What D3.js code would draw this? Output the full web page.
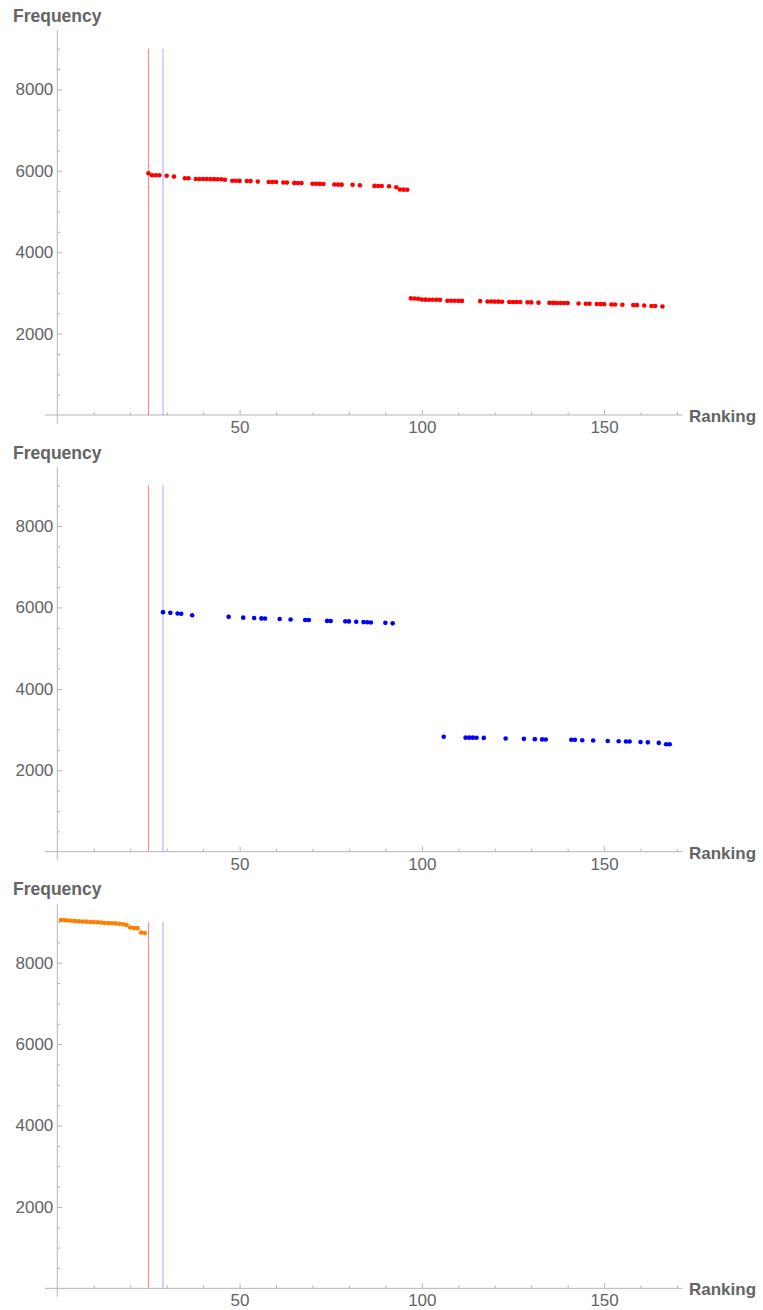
<!DOCTYPE html>
<html>
<head>
<meta charset="utf-8">
<script src="https://cdn.jsdelivr.net/npm/d3@7"></script>
<style>
  body { margin: 0; background: #fff; }
  text { font-family: "Liberation Sans", Arial, sans-serif; }
</style>
</head>
<body>
<div class="graph"></div>
<script>
// data
// orange: ranks 1-24
let orangeRanks = [1,2,3,4,5,6,7,8,9,10,11,12,13,14,15,16,17,18,19,20,21,22,23,24]
let orangeFreqs = [9050,9046,9036,9032,9022,9019,9012,9010,9002,8998,8994,8990,8978,8974,8970,8966,8955,8945,8925,8865,8855,8850,8740,8730]

// red group
let redRanks = [25,26,27,28,30,32,35,36,38,39,40,41,42,43,44,45,46,48,49,50,52,53,55,58,59,60,62,63,65,66,67,70,71,72,73,76,77,78,81,83,87,88,89,91,93,94,95,96,
    97,98,99,100,101,102,103,104,105,107,108,109,110,111,116,118,119,120,121,122,124,125,126,127,129,130,132,135,136,137,138,139,140,143,145,146,148,149,150,152,153,155,158,159,161,163,164,166]
let redFreqs = [5940,5892,5890,5889,5878,5858,5818,5816,5800,5799,5798,5797,5796,5795,5794,5793,5780,5756,5754,5752,5748,5747,5735,5726,5725,5724,5711,5710,5703,5702,5701,5680,5679,5678,5677,5662,5661,5660,5657,5645,5629,5628,5627,5619,5594,5540,5537,5536,
    2866,2862,2855,2836,2834,2832,2831,2830,2829,2808,2807,2806,2805,2804,2798,2788,2787,2786,2785,2784,2778,2777,2776,2775,2768,2767,2760,2755,2754,2753,2752,2751,2750,2738,2734,2733,2726,2725,2724,2716,2715,2710,2700,2699,2690,2678,2677,2666]

// blue group
let blueRanks = [29,31,33,34,37,47,51,54,56,57,61,64,68,69,74,75,79,80,82,84,85,86,90,92,
    106,112,113,114,115,117,123,128,131,133,134,141,142,144,147,151,154,156,157,160,162,165,167,168]
let blueFreqs = [5885,5868,5850,5846,5810,5770,5750,5740,5731,5729,5718,5706,5692,5690,5670,5666,5659,5658,5650,5640,5636,5632,5622,5610,
    2822,2802,2801,2801,2800,2795,2782,2772,2765,2758,2757,2748,2747,2736,2730,2720,2712,2706,2705,2694,2686,2672,2640,2638]

// vertical marker lines
let markerRanks = [25, 29]
let markerColors = ['#ff0000', '#0000ff']
let markerTop = 9000

// ticks
let xMajorTicks = [50, 100, 150]
let xMinorTicks = [10,20,30,40,60,70,80,90,110,120,130,140,160,170]
let yMajorTicks = [2000, 4000, 6000, 8000]
let yMinorTicks = [500,1000,1500,2500,3000,3500,4500,5000,5500,6500,7000,7500,8500,9000]

let svgWidth = 763
let svgHeight = 1310
let panelHeight = svgHeight / 3

let axisColor = '#b5b5b5'
let textColor = '#646464'

let svg = d3.select('.graph')
    .append('svg')
    .attr('width', svgWidth)
    .attr('height', svgHeight)

// scales (same for every panel)
let xScale = d3.scaleLinear()
    .domain([0, 170])
    .range([57.3, 677])
let yScale = d3.scaleLinear()
    .domain([0, 9000])
    .range([415, 48.7])

let panels = [
    {ranks: redRanks, freqs: redFreqs, color: '#ff0000'},
    {ranks: blueRanks, freqs: blueFreqs, color: '#0000ff'},
    {ranks: orangeRanks, freqs: orangeFreqs, color: '#ff8000'}
]

panels.forEach(function(p, i) {
    let g = svg.append('g')
        .attr('transform', 'translate(0,' + (i * panelHeight) + ')')
    drawPanel(g, p)
})

function drawPanel(g, p) {
    // axis lines
    g.append('line')
        .attr('x1', xScale(-3.4)).attr('x2', xScale(171.5))
        .attr('y1', yScale(0)).attr('y2', yScale(0))
        .attr('stroke', axisColor).attr('stroke-width', 1)
    g.append('line')
        .attr('x1', xScale(0)).attr('x2', xScale(0))
        .attr('y1', yScale(-205)).attr('y2', yScale(9450))
        .attr('stroke', axisColor).attr('stroke-width', 1)

    // ticks point inwards, like the original
    let xMinor = d3.axisBottom(xScale).tickValues(xMinorTicks).tickSize(-3).tickFormat('')
    let xMajor = d3.axisBottom(xScale).tickValues(xMajorTicks).tickSize(-5).tickPadding(6)
        .tickFormat(d3.format('d'))
    let yMinor = d3.axisLeft(yScale).tickValues(yMinorTicks).tickSize(-3).tickFormat('')
    let yMajor = d3.axisLeft(yScale).tickValues(yMajorTicks).tickSize(-5).tickPadding(4)
        .tickFormat(d3.format('d'))

    let xg1 = g.append('g').attr('transform', 'translate(0,' + yScale(0) + ')').call(xMinor)
    let xg2 = g.append('g').attr('transform', 'translate(0,' + yScale(0) + ')').call(xMajor)
    let yg1 = g.append('g').attr('transform', 'translate(' + xScale(0) + ',0)').call(yMinor)
    let yg2 = g.append('g').attr('transform', 'translate(' + xScale(0) + ',0)').call(yMajor)

    ;[xg1, xg2, yg1, yg2].forEach(function(a) {
        a.select('.domain').remove()
        a.selectAll('line').attr('stroke', axisColor)
        a.selectAll('text')
            .attr('fill', textColor)
            .style('font-size', '17px')
            .style('font-family', '"Liberation Sans", Arial, sans-serif')
    })

    // marker lines
    markerRanks.forEach(function(r, j) {
        g.append('line')
            .attr('x1', xScale(r)).attr('x2', xScale(r))
            .attr('y1', yScale(0)).attr('y2', yScale(markerTop))
            .attr('stroke', markerColors[j])
            .attr('stroke-opacity', j == 0 ? 0.5 : 0.35)
            .attr('stroke-width', 1)
    })

    // points
    g.selectAll('circle.pt')
        .data(p.ranks)
        .enter()
        .append('circle')
        .attr('class', 'pt')
        .attr('cx', d => xScale(d))
        .attr('cy', (d, k) => yScale(p.freqs[k]))
        .attr('r', 2.3)
        .attr('fill', p.color)

    // axis titles
    g.append('text')
        .attr('x', 13)
        .attr('y', 22)
        .attr('fill', textColor)
        .style('font-size', '17.5px')
        .style('font-weight', 'bold')
        .text('Frequency')
    g.append('text')
        .attr('x', 689)
        .attr('y', yScale(0) + 7)
        .attr('fill', textColor)
        .style('font-size', '17px')
        .style('font-weight', 'bold')
        .text('Ranking')
}
</script>
</body>
</html>
